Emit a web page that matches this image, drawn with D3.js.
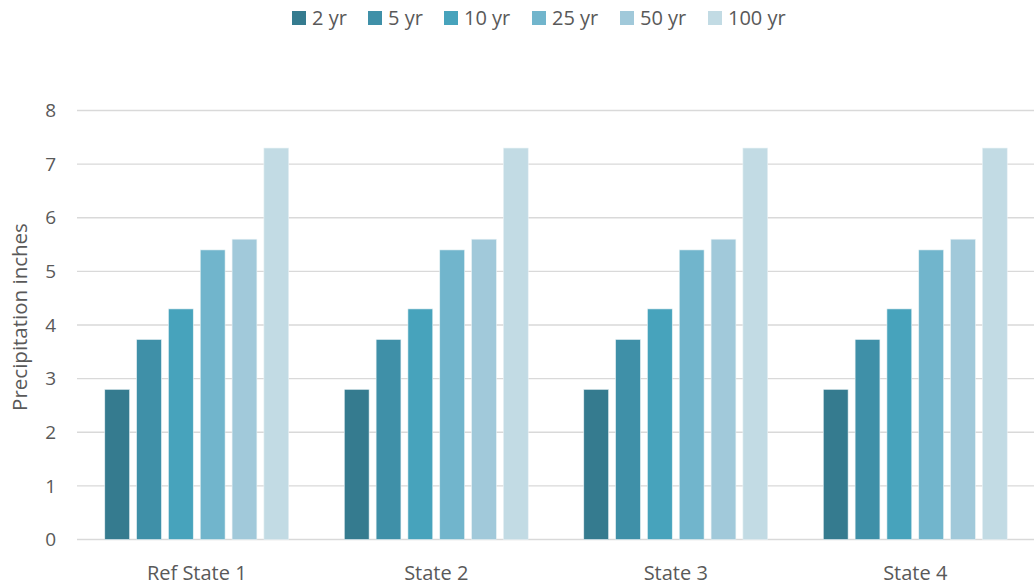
<!DOCTYPE html>
<html><head><meta charset="utf-8">
<script src="https://cdn.jsdelivr.net/npm/d3@7"></script>
<style>body{margin:0;background:#fff}svg{display:block;font-family:"Open Sans",sans-serif}</style>
</head><body><svg id="c" width="1034" height="585"></svg>
<script>
const categories = ["Ref State 1","State 2","State 3","State 4"];
const seriesNames = ["2 yr","5 yr","10 yr","25 yr","50 yr","100 yr"];
const v2 = [2.8,2.8,2.8,2.8];
const v5 = [3.73,3.73,3.73,3.73];
const v10 = [4.3,4.3,4.3,4.3];
const v25 = [5.4,5.4,5.4,5.4];
const v50 = [5.6,5.6,5.6,5.6];
const v100 = [7.3,7.3,7.3,7.3];
const yTicks = [0,1,2,3,4,5,6,7,8];
const colors = ["#357b8f","#3f90a8","#47a3bc","#71b5cc","#a1c9da","#c2dbe4"];
const series = [v2,v5,v10,v25,v50,v100];

const svg = d3.select("#c");
const L=77,R=1035,T=110.5,B=539.5;
const x = d3.scaleBand().domain(categories).range([L,R]).paddingInner(0.232).paddingOuter(0.116);
const xs = d3.scaleBand().domain(seriesNames).range([0,x.bandwidth()]).paddingInner(0.22);
const y = d3.scaleLinear().domain([0,8]).range([B,T]);

svg.append("g").selectAll("line").data(yTicks).join("line")
  .attr("x1",L).attr("x2",R).attr("y1",d=>y(d)).attr("y2",d=>y(d))
  .attr("stroke","#d9d9d9").attr("stroke-width",1.3);

svg.append("g").selectAll("text").data(yTicks).join("text")
  .attr("x",56).attr("y",d=>y(d)).attr("dy","0.35em").attr("text-anchor","end")
  .attr("font-size",19).attr("fill","#595959").text(d=>d);

const g = svg.append("g");
series.forEach((vals,si)=>{
  g.append("g").selectAll("rect").data(vals).join("rect")
    .attr("x",(d,i)=>x(categories[i])+xs(seriesNames[si]))
    .attr("width",xs.bandwidth())
    .attr("y",d=>y(d)).attr("height",d=>B-y(d))
    .attr("fill",colors[si]).attr("stroke","#e8f2f5").attr("stroke-width",0.6);
});

svg.append("g").selectAll("text").data(categories).join("text")
  .attr("x",d=>x(d)+x.bandwidth()/2).attr("y",580).attr("text-anchor","middle")
  .attr("font-size",20).attr("fill","#595959").text(d=>d);

svg.append("text").attr("transform","translate(27,317) rotate(-90)")
  .attr("text-anchor","middle").attr("font-size",20.5).attr("fill","#595959")
  .text("Precipitation inches");

const legX = [292,368,444,532,620,708];
const leg = svg.append("g").selectAll("g").data(seriesNames).join("g")
  .attr("transform",(d,i)=>`translate(${legX[i]},11)`);
leg.append("rect").attr("width",14).attr("height",14).attr("fill",(d,i)=>colors[i]);
leg.append("text").attr("x",20).attr("y",7).attr("dy","0.35em").attr("font-size",20)
  .attr("fill","#595959").text(d=>d);
</script></body></html>
